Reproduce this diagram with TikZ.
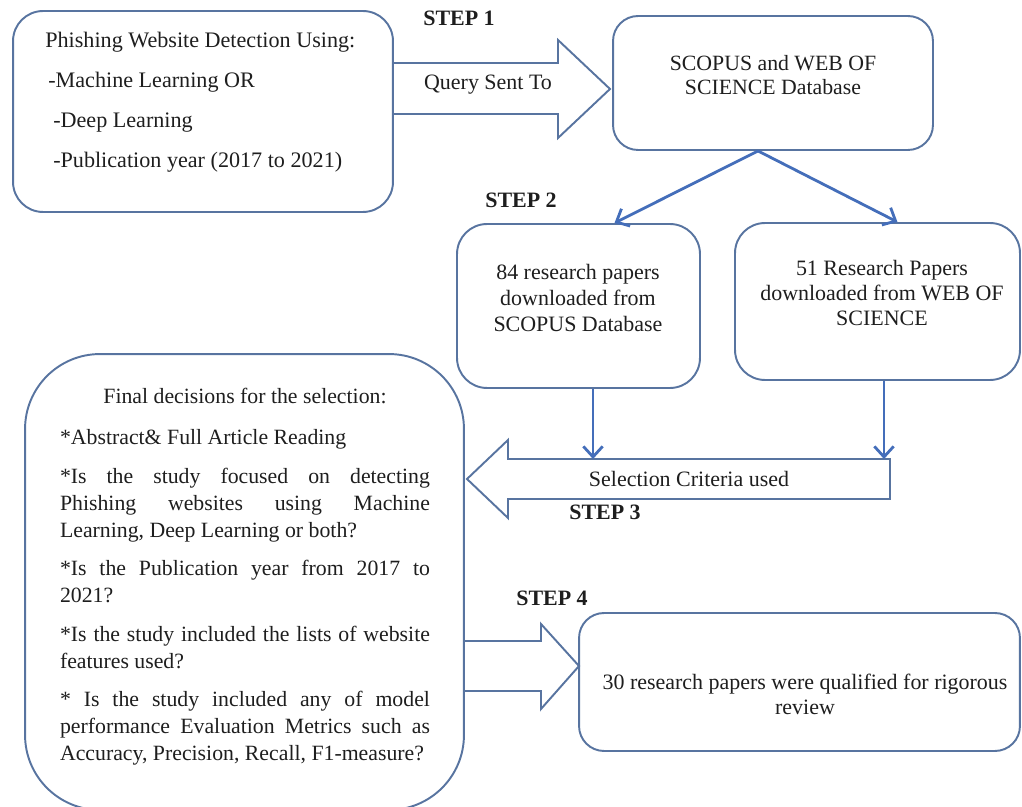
\documentclass[tikz,border=0pt]{standalone}
\usepackage{fontspec}
\setmainfont{Liberation Serif}
\usetikzlibrary{arrows.meta,calc,positioning}
\definecolor{boxblue}{RGB}{88,116,160}
\definecolor{linkblue}{RGB}{68,110,186}
\definecolor{inkgray}{RGB}{30,30,30}

\begin{document}
\begin{tikzpicture}[x=0.02cm,y=-0.02cm,
    box/.style={draw=boxblue,line width=1.1pt,rounded corners=#1},
    box/.default=0.6cm,
    txt/.style={text=inkgray,inner sep=0pt,align=center,font=\fontsize{12.5}{14.5}\selectfont},
    steplbl/.style={text=inkgray,inner sep=0pt,font=\fontsize{12.5}{15}\selectfont\bfseries},
    fatarrow/.style={draw=boxblue,line width=1.1pt,line join=miter},
    link/.style={draw=linkblue,line width=1.6pt,-{Straight Barb[length=6pt,width=11pt]}}]
    \useasboundingbox (0,0) rectangle (1022,807);

    % Step 1: query sent to the databases
    \node[box=0.6cm,minimum width=7.6cm,minimum height=4.02cm] (querybox) at (203,111.5) {};
    \node[txt,anchor=west,align=left,font=\fontsize{12.6}{22.7}\selectfont] (querytext) at (45,102.5)
        {Phishing Website Detection Using:\\\hspace{1.7pt}-Machine Learning OR\\\hspace{4.5pt}-Deep Learning\\\hspace{4.5pt}-Publication year (2017 to 2021)};
    \node[box=0.5cm,minimum width=6.4cm,minimum height=2.68cm] (dbbox) at (773,83) {};
    \node[txt,font=\fontsize{12.4}{13.6}\selectfont] (dbtext) at (773,75) {SCOPUS and WEB OF\\SCIENCE Database};
    \draw[fatarrow] (393,63) -- (558,63) -- (558,40) -- (610,89) -- (558,138) -- (558,114) -- (393,114);
    \node[txt] (querylbl) at (488,85) {Query Sent To};
    \node[steplbl] (step1) at (459,18) {STEP 1};

    % Step 2: papers from each database
    \node[box=0.6cm,minimum width=4.86cm,minimum height=3.28cm] (scopusbox) at (578.5,306) {};
    \node[txt,font=\fontsize{12.5}{14.7}\selectfont] (scopustext) at (578,298) {84 research papers\\downloaded from\\SCOPUS Database};
    \node[box=0.6cm,minimum width=5.7cm,minimum height=3.14cm] (wosbox) at (877.5,301.5) {};
    \node[txt,font=\fontsize{12.5}{14.3}\selectfont] (wostext) at (882,293) {51 Research Papers\\downloaded from WEB OF\\SCIENCE};
    \coordinate (split) at ($(dbbox.south)+(-15,0)$);
    \draw[link] (split) -- ($(scopusbox.north)+(36,0)$);
    \draw[link] (split) -- ($(wosbox.north)+(20,0)$);
    \node[steplbl] (step2) at (521,200) {STEP 2};

    % Step 3: selection criteria
    \draw[fatarrow] (890,459) -- (508,459) -- (508,440) -- (467,479) -- (508,518) -- (508,499) -- (890,499) -- cycle;
    \node[txt] (sellbl) at (689,479) {Selection Criteria used};
    \coordinate (selA) at (593,459);
    \coordinate (selB) at (884,459);
    \draw[link] (scopusbox.south -| selA) -- (selA);
    \draw[link] (wosbox.south -| selB) -- (selB);
    \node[steplbl] (step3) at (605,512) {STEP 3};

    \node[box=1.5cm,minimum width=8.78cm,minimum height=9.12cm] (finalbox) at (244.5,582) {};
    \node[txt,anchor=north,text width=7.4cm,align=justify,font=\fontsize{12.4}{15.5}\selectfont] (finaltext) at (245,388)
        {\parindent=0pt\parskip=6.2pt\hyphenpenalty=10000
        {\centering Final decisions for the selection:\par}\vspace{1.8pt}
        *Abstract\& Full Article Reading\par
        *Is the study focused on detecting\linebreak Phishing websites using Machine\linebreak Learning, Deep Learning or both?\par
        *Is the Publication year from 2017 to\linebreak 2021?\par
        *Is the study included the lists of website\linebreak features used?\par
        * Is the study included any of model\linebreak performance Evaluation Metrics such as\linebreak Accuracy, Precision, Recall, F1-measure?\par};

    % Step 4: qualified papers
    \draw[fatarrow] (464,641) -- (541,641) -- (541,624) -- (579,666) -- (541,709) -- (541,691) -- (464,691);
    \node[steplbl] (step4) at (552,598) {STEP 4};
    \node[box=0.5cm,minimum width=8.82cm,minimum height=2.76cm] (resultbox) at (799.5,682) {};
    \node[txt] (resulttext) at (805,694.5) {30 research papers were qualified for rigorous\\review};
\end{tikzpicture}
\end{document}
